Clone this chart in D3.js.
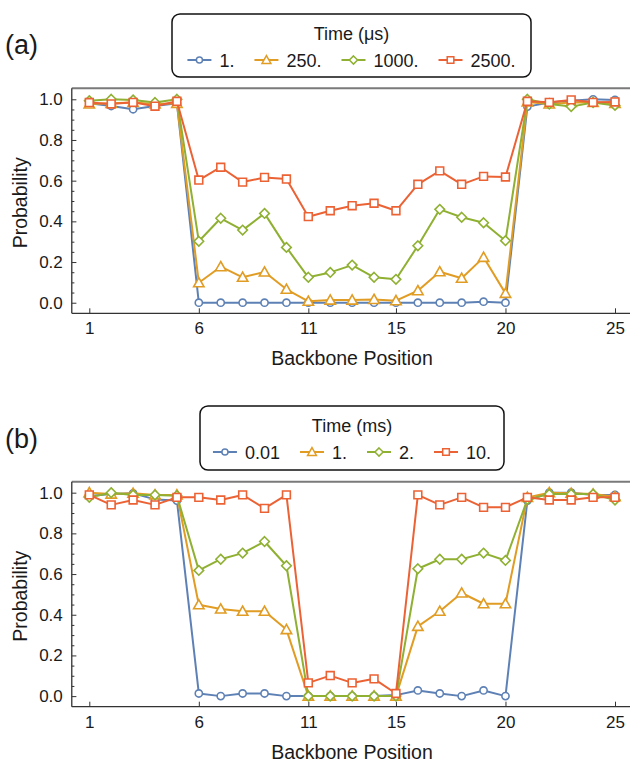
<!DOCTYPE html>
<html>
<head>
<meta charset="utf-8">
<script src="https://cdn.jsdelivr.net/npm/d3@7"></script>
<style>
  body { margin: 0; background: #fff; }
  svg { display: block; }
  text { font-family: "Liberation Sans", Arial, sans-serif; fill: #1a1a1a; }
</style>
</head>
<body>
<svg id="chart" width="630" height="762"></svg>
<script>
// ---------- data ----------
const positions = d3.range(1, 26);
const xTickValues = [1, 6, 11, 15, 20, 25];
const yTickValues = [0, 0.2, 0.4, 0.6, 0.8, 1.0];

const seriesNamesA = ["1.", "250.", "1000.", "2500."];
const a_1    = [0.980,0.967,0.951,0.967,0.980, 0,0,0,0,0, 0,0,0,0,0, 0,0,0,0.005,0, 0.964,0.984,0.993,1.000,0.997];
const a_250  = [0.977,0.980,0.984,0.977,0.980, 0.098,0.177,0.125,0.151,0.066, 0.007,0.013,0.013,0.016,0.010, 0.059,0.152,0.120,0.223,0.046, 0.987,0.977,0.984,0.984,0.980];
const a_1000 = [0.993,1.000,0.997,0.984,1.000, 0.302,0.415,0.357,0.439,0.272, 0.125,0.149,0.185,0.125,0.115, 0.280,0.459,0.420,0.393,0.305, 1.000,0.977,0.964,0.984,0.970];
const a_2500 = [0.984,0.977,0.985,0.966,0.990, 0.603,0.666,0.593,0.616,0.608, 0.423,0.452,0.477,0.489,0.452, 0.582,0.648,0.582,0.621,0.618, 0.990,0.985,0.997,0.985,0.987];

const seriesNamesB = ["0.01", "1.", "2.", "10."];
const b_001 = [0.984,0.993,0.997,0.967,0.961, 0.013,0,0.013,0.013,0, 0,0,0,0,0.005, 0.028,0.013,0,0.028,0, 0.961,1.000,1.000,0.989,0.989];
const b_1   = [1.000,0.993,0.997,0.989,0.989, 0.449,0.428,0.417,0.417,0.327, 0,0,0,0,0, 0.343,0.417,0.507,0.454,0.454, 0.977,1.000,0.997,0.993,0.980];
const b_2   = [0.977,1.000,0.989,0.989,0.985, 0.618,0.673,0.703,0.760,0.641, 0,0,0,0,0, 0.626,0.673,0.673,0.703,0.667, 0.967,0.993,0.993,0.993,0.964];
const b_10  = [0.989,0.940,0.964,0.940,0.977, 0.977,0.964,0.989,0.923,0.989, 0.065,0.101,0.065,0.085,0.013, 0.989,0.940,0.977,0.928,0.928, 0.977,0.964,0.964,0.977,0.977];

// ---------- style ----------
const colors = ["#5E81B5", "#E19C24", "#8FB032", "#EB6235"];
const shapes = ["circle", "triangle", "diamond", "square"];

function markerPath(shape, s) {
  s = s || 1;
  switch (shape) {
    case "circle": { const r = 3.6 * s; return `M${r},0A${r},${r} 0 1,1 ${-r},0A${r},${r} 0 1,1 ${r},0Z`; }
    case "triangle": { const w = 5.2 * s, h = 4.6 * s; return `M0,${-h - 0.6*s}L${w},${h - 0.6*s}L${-w},${h - 0.6*s}Z`; }
    case "diamond": { const d = 4.8 * s; return `M0,${-d}L${d},0L0,${d}L${-d},0Z`; }
    case "square": { const a = 3.9 * s; return `M${-a},${-a}H${a}V${a}H${-a}Z`; }
  }
}

const svg = d3.select("#chart");

function drawPanel(cfg) {
  const { top, label, legendTitle, legendBox, names, series } = cfg;
  const frameTop = top, frameBottom = top + 225;
  const x = d3.scaleLinear().domain([1, 25]).range([89.3, 615]);
  const y = d3.scaleLinear().domain([-0.052, 1.054]).range([frameBottom, frameTop]);
  const frameLeft = x(0.2);
  const g = svg.append("g");

  // frame top (gray)
  g.append("line").attr("x1", frameLeft).attr("x2", 630).attr("y1", frameTop).attr("y2", frameTop)
    .attr("stroke", "#7a7a7a").attr("stroke-width", 2);

  // minor y ticks
  const minor = d3.range(0, 21).map(i => i * 0.05).filter(v => yTickValues.every(t => Math.abs(t - v) > 1e-6));
  g.append("g").attr("transform", `translate(${frameLeft},0)`)
    .call(d3.axisLeft(y).tickValues(minor).tickSize(-2.6).tickFormat(""))
    .call(s => s.select(".domain").remove())
    .call(s => s.selectAll("line").attr("stroke", "#333").attr("stroke-width", 1));

  // y axis
  g.append("g").attr("transform", `translate(${frameLeft},0)`)
    .call(d3.axisLeft(y).tickValues(yTickValues).tickSize(-4.6).tickPadding(9).tickFormat(d3.format(".1f")))
    .call(s => s.select(".domain").attr("d", `M0,${frameTop}V${frameBottom}`).attr("stroke", "#333").attr("stroke-width", 1.3))
    .call(s => s.selectAll("line").attr("stroke", "#333").attr("stroke-width", 1))
    .call(s => s.selectAll("text").attr("font-size", 17).attr("font-family", "Liberation Sans, Arial, sans-serif").attr("fill", "#1a1a1a"));

  // x axis
  g.append("g").attr("transform", `translate(0,${frameBottom})`)
    .call(d3.axisBottom(x).tickValues(xTickValues).tickSize(-5).tickPadding(9).tickFormat(d3.format("d")))
    .call(s => s.select(".domain").attr("d", `M${frameLeft},0H630`).attr("stroke", "#333").attr("stroke-width", 1.3))
    .call(s => s.selectAll("line").attr("stroke", "#333").attr("stroke-width", 1))
    .call(s => s.selectAll("text").attr("font-size", 17).attr("font-family", "Liberation Sans, Arial, sans-serif").attr("fill", "#1a1a1a"));

  // axis labels
  g.append("text").attr("x", 352).attr("y", frameBottom + 52).attr("text-anchor", "middle")
    .attr("font-size", 19.5).text("Backbone Position");
  g.append("text").attr("transform", `translate(27,${(frameTop + frameBottom) / 2 + 2}) rotate(-90)`)
    .attr("text-anchor", "middle").attr("font-size", 19.5).text("Probability");

  // series
  const line = d3.line().x((d, i) => x(positions[i])).y(d => y(d));
  series.forEach((vals, k) => {
    const sg = g.append("g");
    sg.append("path").attr("d", line(vals)).attr("fill", "none")
      .attr("stroke", colors[k]).attr("stroke-width", 2).attr("stroke-linejoin", "round");
    sg.selectAll("path.m").data(vals).join("path").attr("class", "m")
      .attr("transform", (d, i) => `translate(${x(positions[i])},${y(d)})`)
      .attr("d", markerPath(shapes[k]))
      .attr("fill", "#fff").attr("stroke", colors[k]).attr("stroke-width", 1.6);
  });

  // panel label
  svg.append("text").attr("x", 5).attr("y", top - 34).attr("font-size", 27).text(label);

  // legend
  const lg = svg.append("g");
  lg.append("rect").attr("x", legendBox.x).attr("y", legendBox.y).attr("width", legendBox.w).attr("height", legendBox.h)
    .attr("rx", 8).attr("ry", 8).attr("fill", "#fff").attr("stroke", "#111").attr("stroke-width", 1.5);
  const cx = legendBox.x + legendBox.w / 2;
  lg.append("text").attr("x", cx).attr("y", legendBox.y + 26).attr("text-anchor", "middle")
    .attr("font-size", 18).text(legendTitle);
  const rowY = legendBox.y + 46;
  const items = lg.append("g");
  let cur = 0;
  names.forEach((n, k) => {
    const it = items.append("g").attr("transform", `translate(${cur},0)`);
    it.append("line").attr("x1", 0).attr("x2", 24).attr("y1", rowY).attr("y2", rowY)
      .attr("stroke", colors[k]).attr("stroke-width", 2);
    it.append("path").attr("transform", `translate(12,${rowY})`).attr("d", markerPath(shapes[k], 0.85))
      .attr("fill", "#fff").attr("stroke", colors[k]).attr("stroke-width", 1.5);
    const t = it.append("text").attr("x", 32).attr("y", rowY + 6.5).attr("font-size", 18).text(n);
    const w = t.node().getComputedTextLength();
    cur += 32 + w + (k < names.length - 1 ? 20 : 0);
  });
  items.attr("transform", `translate(${cx - cur / 2},0)`);
}

drawPanel({
  top: 88.3, label: "(a)", legendTitle: "Time (\u03bcs)",
  legendBox: { x: 172, y: 14, w: 359, h: 63 },
  names: seriesNamesA, series: [a_1, a_250, a_1000, a_2500]
});
drawPanel({
  top: 481.7, label: "(b)", legendTitle: "Time (ms)",
  legendBox: { x: 200, y: 406, w: 304, h: 64 },
  names: seriesNamesB, series: [b_001, b_1, b_2, b_10]
});
</script>
</body>
</html>
